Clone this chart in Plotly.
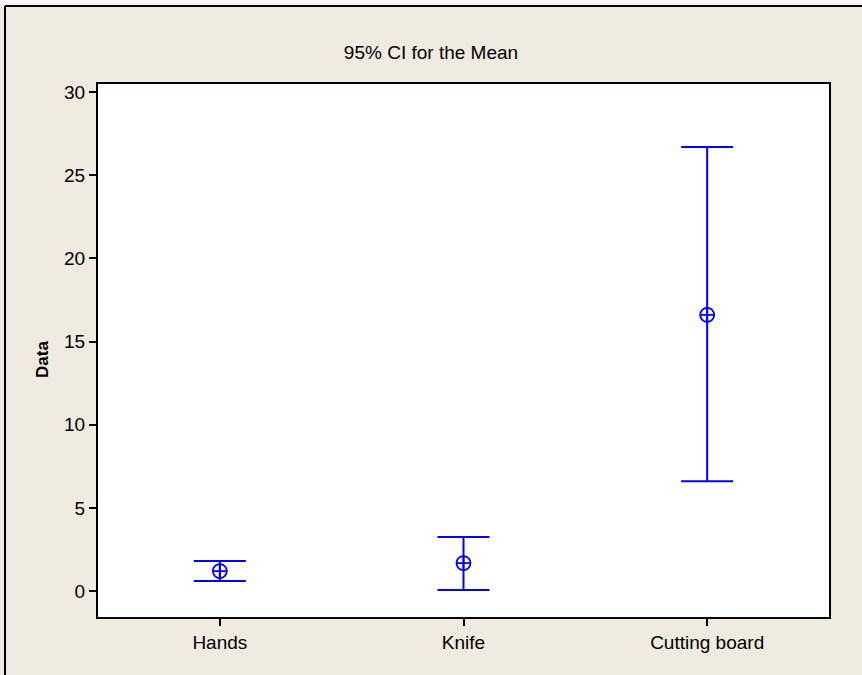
import plotly.graph_objects as go

categories = ["Hands", "Knife", "Cutting board"]
means = [1.2, 1.68, 16.6]
lower = [0.6, 0.06, 6.6]
upper = [1.8, 3.25, 26.7]
y_ticks = [0, 5, 10, 15, 20, 25, 30]

FONT = "Liberation Sans, Arial, sans-serif"
BLUE = "#0000FF"
BEIGE = "#EFEBE1"

err_plus = [u - m for u, m in zip(upper, means)]
err_minus = [m - l for m, l in zip(means, lower)]

fig = go.Figure()
fig.add_trace(go.Scatter(
    x=categories, y=means, mode="markers",
    marker=dict(symbol="circle-cross-open", size=14, color=BLUE,
                line=dict(color=BLUE, width=1.8)),
    error_y=dict(type="data", symmetric=False, array=err_plus, arrayminus=err_minus,
                 color=BLUE, thickness=2, width=26),
    showlegend=False,
))

W, H = 862, 675
L, R, T, B = 98, 829, 84, 617
pw, ph = R - L, B - T

def px_x(p):
    return (p - L) / pw

def px_y(p):
    return (B - p) / ph

fig.update_layout(
    width=W, height=H,
    margin=dict(l=L, r=W - R, t=T, b=H - B),
    paper_bgcolor=BEIGE, plot_bgcolor="white",
    font=dict(family=FONT, size=19, color="black"),
    title=dict(text="95% CI for the Mean", x=0.5, xref="container", xanchor="center",
               y=1 - 52 / H, yref="container", yanchor="middle",
               font=dict(family=FONT, size=19, color="black")),
    xaxis=dict(type="category", range=[-0.5, 2.5], showgrid=False, zeroline=False,
               showline=True, linecolor="black", linewidth=2, mirror=True,
               ticks="outside", ticklen=7, tickwidth=2, tickcolor="black",
               tickfont=dict(family=FONT, size=19)),
    yaxis=dict(range=[-1.56, 30.48], tickvals=y_ticks, showgrid=False, zeroline=False,
               showline=True, linecolor="black", linewidth=2, mirror=True,
               ticks="outside", ticklen=7, tickwidth=2, tickcolor="black",
               tickfont=dict(family=FONT, size=19)),
    annotations=[dict(text="<b>Data</b>", textangle=-90, xref="paper", yref="paper",
                      x=px_x(42), y=px_y(360), xanchor="center", yanchor="middle",
                      showarrow=False, font=dict(family=FONT, size=17))],
    shapes=[
        dict(type="rect", xref="paper", yref="paper", x0=px_x(-10), x1=px_x(W + 10),
             y0=px_y(6), y1=px_y(-10), fillcolor="#F6F4F4", line=dict(width=0), layer="below"),
        dict(type="line", xref="paper", yref="paper", x0=px_x(5), x1=px_x(W + 10),
             y0=px_y(6), y1=px_y(6), line=dict(color="black", width=2)),
        dict(type="line", xref="paper", yref="paper", x0=px_x(5), x1=px_x(5),
             y0=px_y(6), y1=px_y(H + 10), line=dict(color="black", width=2)),
    ],
)

fig.write_html("out.html", config={"displayModeBar": False},
               post_script="document.body.style.margin='0';document.body.style.padding='0';")
